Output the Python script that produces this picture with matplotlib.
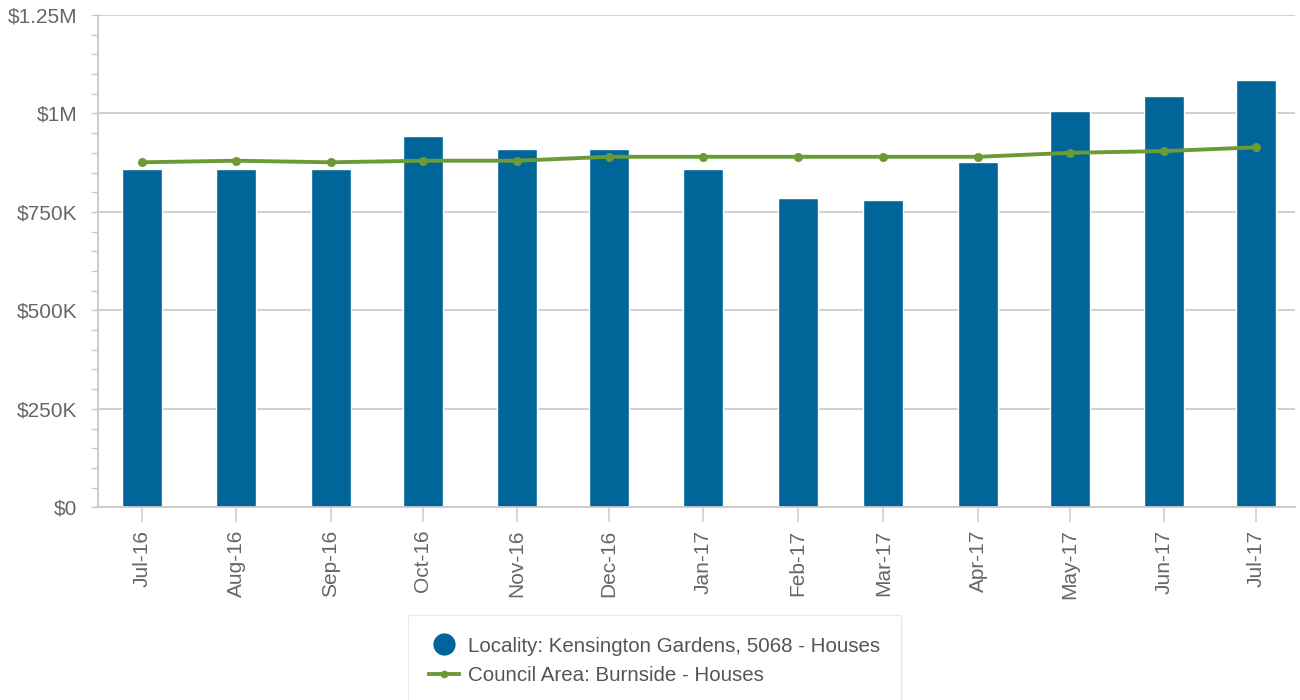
import matplotlib
matplotlib.use("Agg")
import matplotlib.pyplot as plt
import matplotlib.dates as mdates
from matplotlib.ticker import MultipleLocator, FixedLocator
from matplotlib.lines import Line2D
from datetime import datetime, timedelta

plt.rcParams['font.family'] = ['Liberation Sans', 'DejaVu Sans']

months = [datetime(2016, 7, 1), datetime(2016, 8, 1), datetime(2016, 9, 1),
          datetime(2016, 10, 1), datetime(2016, 11, 1), datetime(2016, 12, 1),
          datetime(2017, 1, 1), datetime(2017, 2, 1), datetime(2017, 3, 1),
          datetime(2017, 4, 1), datetime(2017, 5, 1), datetime(2017, 6, 1),
          datetime(2017, 7, 1)]
month_labels = ["Jul-16", "Aug-16", "Sep-16", "Oct-16", "Nov-16", "Dec-16",
                "Jan-17", "Feb-17", "Mar-17", "Apr-17", "May-17", "Jun-17", "Jul-17"]
locality_values = [858000, 858000, 858000, 944000, 910000, 910000, 858000,
                   785000, 780000, 876000, 1007000, 1045500, 1084000]
council_values = [876000, 880000, 876000, 880000, 880000, 890000, 890000,
                  890000, 890000, 890000, 900000, 904500, 914000]
y_ticks = [0, 250000, 500000, 750000, 1000000, 1250000]
y_tick_labels = ["$0", "$250K", "$500K", "$750K", "$1M", "$1.25M"]

locality_name = "Locality: Kensington Gardens, 5068 - Houses"
council_name = "Council Area: Burnside - Houses"

bar_color = "#006699"
line_color = "#6B9B37"
text_color = "#666666"
grid_color = "#C8C8C8"

fig = plt.figure(figsize=(13, 7), dpi=100)
W, H = 1300, 700
ax = fig.add_axes([98 / W, 1 - 507.3 / H, (1295 - 98) / W, (507.3 - 15) / H])

x = mdates.date2num(months)
ax.bar(x, locality_values, width=13.1, color=bar_color, edgecolor="white",
       linewidth=1.0, zorder=2)
ax.plot(x, council_values, color=line_color, linewidth=2.8, marker="o",
        markersize=5.5, zorder=3)

ax.set_xlim(mdates.date2num(months[0] - timedelta(days=14.3)),
            mdates.date2num(months[-1] + timedelta(days=12.8)))
ax.set_ylim(0, 1250000)

ax.xaxis.set_major_locator(FixedLocator(x))
ax.set_xticklabels(month_labels, rotation=90, fontsize=15, color=text_color)
ax.set_yticks(y_ticks)
ax.set_yticklabels(y_tick_labels, fontsize=15, color=text_color)
ax.yaxis.set_minor_locator(MultipleLocator(50000))

ax.tick_params(axis="x", length=11, width=1.3, color="#CCD6EB", pad=5)
ax.tick_params(axis="y", which="both", length=5, width=1, color=grid_color, pad=10)

ax.grid(axis="y", color=grid_color, linewidth=1.2, zorder=0)
ax.set_axisbelow(True)

for s in ["top", "right"]:
    ax.spines[s].set_visible(False)
ax.spines["left"].set_color(grid_color)
ax.spines["left"].set_linewidth(1.3)
ax.spines["bottom"].set_color(grid_color)
ax.spines["bottom"].set_linewidth(1.3)
ax.spines["bottom"].set_zorder(4)

handles = [
    Line2D([], [], linestyle="none", marker="o", markersize=15,
           markerfacecolor=bar_color, markeredgecolor=bar_color),
    Line2D([], [], color=line_color, linewidth=2.8, marker="o", markersize=4.5),
]
leg = fig.legend(handles, [locality_name, council_name], loc="upper left",
                 bbox_to_anchor=(407.5 / W, 1 - 615 / H), fontsize=14.8,
                 frameon=True, fancybox=False, edgecolor="#E6E6E6",
                 labelcolor="#555555", handlelength=1.47, handletextpad=0.4,
                 borderpad=1.05, borderaxespad=0, labelspacing=0.5)
leg.get_frame().set_linewidth(1.0)

fig.savefig("out.png", dpi=100)
